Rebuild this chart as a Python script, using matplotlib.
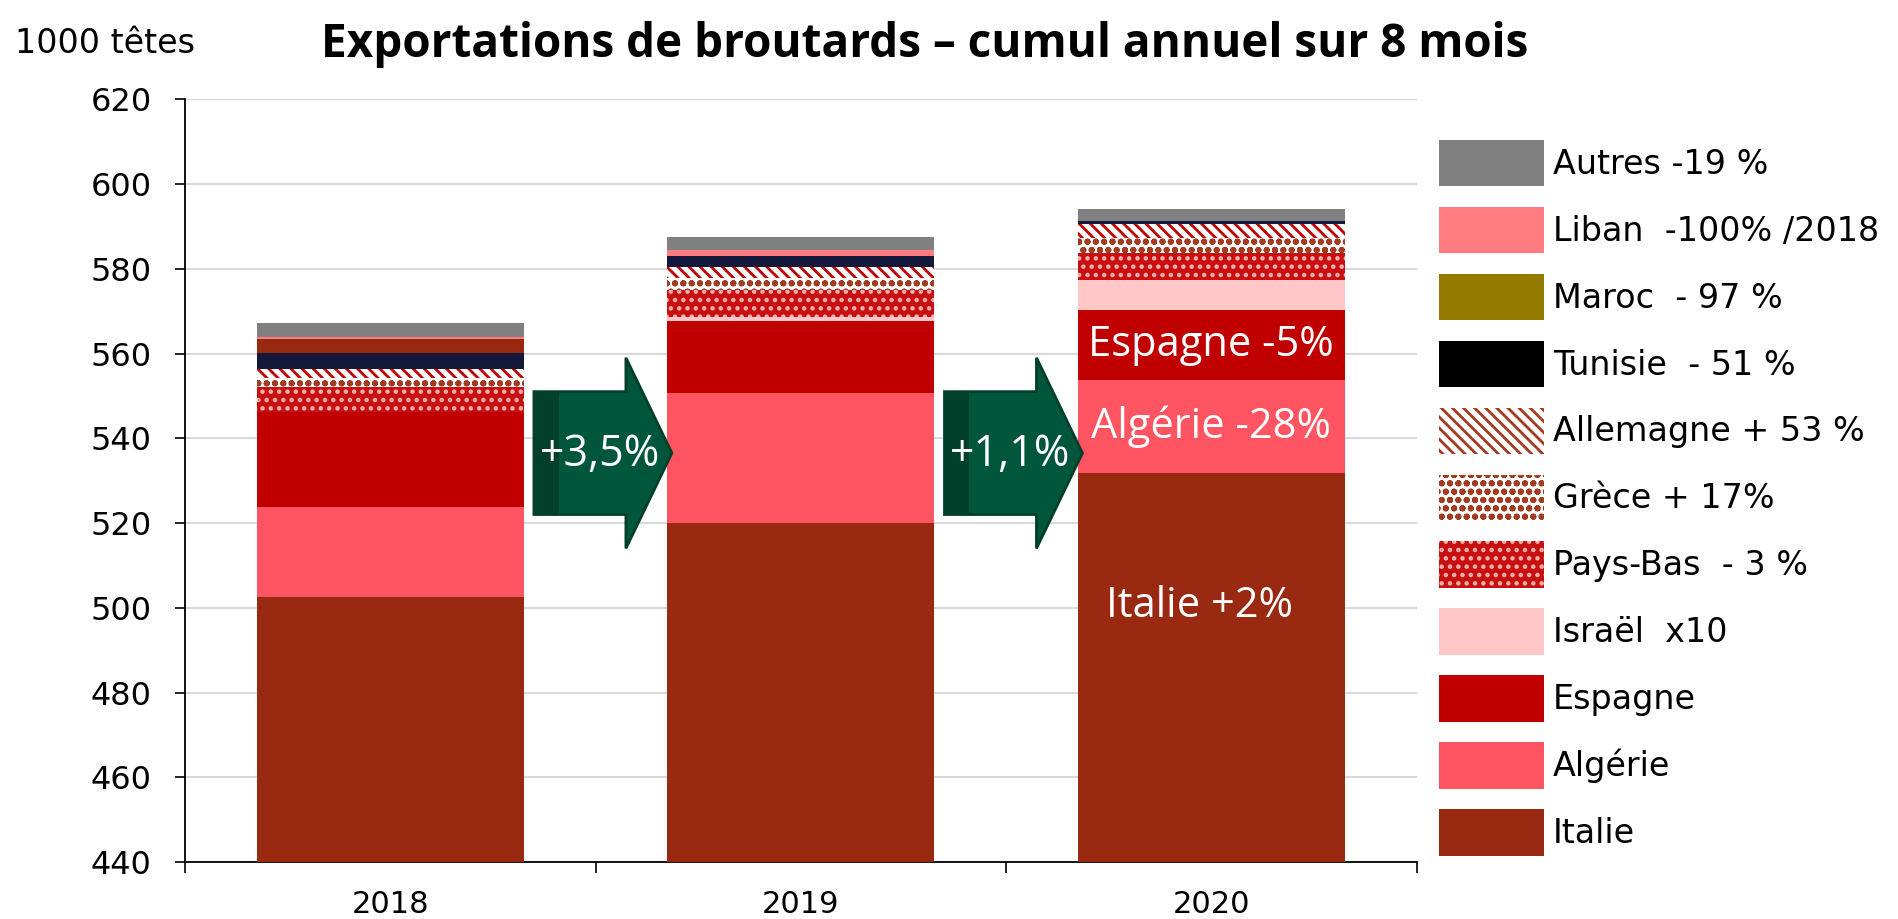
import numpy as np
import matplotlib
matplotlib.use("Agg")
import matplotlib.pyplot as plt
from matplotlib.patches import Patch, FancyArrow, Rectangle

plt.rcParams['font.family'] = ['Open Sans', 'DejaVu Sans']
plt.rcParams['hatch.linewidth'] = 2.0

# données (1000 têtes)
years = ['2018', '2019', '2020']
italie = [502.5, 520.0, 531.7]
algerie = [21.2, 30.6, 22.0]
espagne = [22.6, 17.1, 16.5]
israel = [0.0, 0.9, 7.1]
pays_bas = [5.8, 6.4, 6.4]
grece = [2.1, 2.8, 3.5]
allemagne = [2.1, 2.5, 3.3]
tunisie = [3.9, 2.8, 0.7]
maroc = [3.2, 0.0, 0.1]
liban = [0.4, 1.3, 0.0]
autres = [3.3, 3.1, 2.8]

evol = ['+3,5%', '+1,1%']

series = [
    # nom, valeurs, couleur barre, hachure, couleur hachure
    ('Italie', italie, '#9A2912', None, None),
    ('Algérie', algerie, '#FF5461', None, None),
    ('Espagne', espagne, '#C00000', None, None),
    ('Israël', israel, '#FFC7C7', None, None),
    ('Pays-Bas', pays_bas, '#C81010', '..', '#F4B0B0'),
    ('Grèce', grece, 'white', 'oo', '#A33B20'),
    ('Allemagne', allemagne, 'white', '\\\\\\', '#C00000'),
    ('Tunisie', tunisie, '#14183A', None, None),
    ('Maroc', maroc, '#9A2912', None, None),
    ('Liban', liban, '#FF7C80', None, None),
    ('Autres', autres, '#808080', None, None),
]

# légende (ordre du haut vers le bas)
leg_labels = ['Autres -19 %', 'Liban  -100% /2018', 'Maroc  - 97 %', 'Tunisie  - 51 %',
              'Allemagne + 53 %', 'Grèce + 17%', 'Pays-Bas  - 3 %', 'Israël  x10',
              'Espagne', 'Algérie', 'Italie']
leg_style = [('#808080', None, None), ('#FF7C80', None, None), ('#957A00', None, None),
             ('black', None, None), ('white', '\\\\\\', '#A33B20'), ('white', 'oo', '#A33B20'),
             ('#C81010', '..', '#F4B0B0'), ('#FFC7C7', None, None), ('#C00000', None, None),
             ('#FF5461', None, None), ('#9A2912', None, None)]

fig = plt.figure(figsize=(18.99, 9.19), dpi=100)
ax = fig.add_axes([0.0974, 0.062, 0.6486, 0.830])

x = np.arange(len(years))
bottom = np.zeros(len(years))
bars = {}
for name, vals, col, hatch, hcol in series:
    vals = np.array(vals)
    if hatch:
        ax.bar(x, vals, 0.65, bottom=bottom, color=col, hatch=hatch,
               edgecolor=hcol, linewidth=0, zorder=3)
    else:
        ax.bar(x, vals, 0.65, bottom=bottom, color=col, linewidth=0, zorder=3)
    bars[name] = (bottom.copy(), vals)
    bottom = bottom + vals

ax.set_xlim(-0.5, 2.5)
ax.set_ylim(440, 620)
ax.set_yticks(np.arange(440, 621, 20))
ax.set_xticks(x)
ax.set_xticklabels(years)
ax.set_xticks([-0.5, 0.5, 1.5, 2.5], minor=True)
ax.tick_params(axis='x', which='major', length=0, labelsize=22, pad=20)
ax.tick_params(axis='x', which='minor', length=8, width=1.2, direction='out')
ax.tick_params(axis='y', length=7, width=1.2, labelsize=23, pad=17)
for lab in ax.get_xticklabels() + ax.get_yticklabels():
    lab.set_family('DejaVu Sans')
ax.grid(axis='y', color='#D9D9D9', linewidth=1.5, zorder=0)
for s in ['top', 'right']:
    ax.spines[s].set_visible(False)
ax.spines['left'].set_linewidth(1.3)
ax.spines['bottom'].set_linewidth(1.3)

# étiquettes dans la barre 2020
for name, txt in [('Italie', 'Italie +2%'), ('Algérie', 'Algérie -28%'), ('Espagne', 'Espagne -5%')]:
    b0, v = bars[name]
    yy = b0[2] + v[2] / 2
    if name == 'Italie':
        yy = 500.5
    ax.text(2 - (0.03 if name == 'Italie' else 0), yy, txt, color='white', fontsize=30,
            ha='center', va='center', zorder=5)

# flèches d'évolution
for i, t in enumerate(evol):
    x0 = i + 0.35
    arr = FancyArrow(x0, 536.5, 0.336, 0, width=29, head_width=45, head_length=0.112,
                     length_includes_head=True, facecolor='#00563B', edgecolor='#003F2A',
                     linewidth=2, zorder=4)
    ax.add_patch(arr)
    ax.add_patch(Rectangle((x0, 522), 0.06, 29, facecolor='#00402B', linewidth=0, zorder=4))
    ax.text(x0 + 0.16, 536, t, color='white', fontsize=31, ha='center', va='center', zorder=6)

handles = [Patch(facecolor=c, hatch=h, edgecolor=(hc if h else c), linewidth=0)
           for c, h, hc in leg_style]
fig.legend(handles, leg_labels, loc='upper left', bbox_to_anchor=(0.758, 0.848),
           frameon=False, prop={'family': 'DejaVu Sans', 'size': 24},
           handlelength=3.15, handleheight=1.76,
           labelspacing=0.62, handletextpad=0.25, borderpad=0, borderaxespad=0)

fig.text(0.008, 0.953, '1000 têtes', fontsize=24, family='DejaVu Sans', ha='left', va='center')
fig.text(0.487, 0.952, 'Exportations de broutards – cumul annuel sur 8 mois',
         fontsize=33, fontweight='bold', ha='center', va='center')

fig.savefig('out.png', dpi=100)
